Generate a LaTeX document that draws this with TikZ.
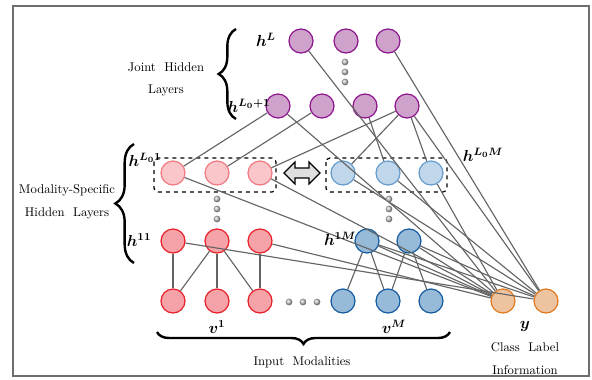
\documentclass[tikz,border=0pt]{standalone}
\usepackage{amsmath,bm}
\usetikzlibrary{decorations.pathreplacing}
\definecolor{jfill}{RGB}{207,162,204}
\definecolor{jdraw}{RGB}{140,20,140}
\definecolor{rlfill}{RGB}{250,198,202}
\definecolor{rldraw}{RGB}{240,120,128}
\definecolor{rfill}{RGB}{245,163,168}
\definecolor{rdraw}{RGB}{232,30,40}
\definecolor{blfill}{RGB}{192,214,234}
\definecolor{bldraw}{RGB}{100,156,206}
\definecolor{bfill}{RGB}{150,186,216}
\definecolor{bdraw}{RGB}{20,90,160}
\definecolor{ofill}{RGB}{238,196,160}
\definecolor{odraw}{RGB}{224,120,30}
\definecolor{edgec}{RGB}{100,100,100}
\definecolor{framec}{RGB}{110,110,110}
\tikzset{
  neuron/.style={circle,minimum size=18pt,inner sep=0pt,line width=0.9pt},
  jnode/.style={neuron,fill=jfill,draw=jdraw},
  rlnode/.style={neuron,fill=rlfill,draw=rldraw},
  rnode/.style={neuron,fill=rfill,draw=rdraw},
  blnode/.style={neuron,fill=blfill,draw=bldraw},
  bnode/.style={neuron,fill=bfill,draw=bdraw},
  onode/.style={neuron,fill=ofill,draw=odraw},
  conn/.style={draw=edgec,line width=0.85pt},
  dotball/.style={circle,inner sep=0pt,minimum size=5pt,ball color=gray!45,draw=none},
  lbl/.style={inner sep=0pt,font=\fontsize{12}{14}\selectfont},
  txt/.style={inner sep=0pt,font=\fontsize{9.5}{11}\selectfont},
  groupbox/.style={draw=black,dashed,line width=0.9pt,rounded corners=3pt},
  bracestyle/.style={decorate,line width=1.8pt}
}
\begin{document}
\begin{tikzpicture}[x=0.75pt,y=-0.75pt]
\useasboundingbox (0,0) rectangle (592,379);
\draw[framec,line width=1.5pt] (13,6) rectangle (589,376);

% dashed group boxes
\draw[groupbox] (154,158) rectangle (276,192);
\draw[groupbox] (326,158) rectangle (447,192);

% joint layers
\node[jnode] (L1) at (301,41) {};
\node[jnode] (L2) at (346,41) {};
\node[jnode] (L3) at (388,41) {};
\node[jnode] (J1) at (278,106) {};
\node[jnode] (J2) at (322,106) {};
\node[jnode] (J3) at (365,106) {};
\node[jnode] (J4) at (407,106) {};

% modality-specific top
\node[rlnode] (RL1) at (173,173) {};
\node[rlnode] (RL2) at (217,173) {};
\node[rlnode] (RL3) at (260,173) {};
\node[blnode] (BL1) at (343,173) {};
\node[blnode] (BL2) at (388,173) {};
\node[blnode] (BL3) at (431,173) {};

% modality-specific first
\node[rnode] (RH1) at (173,241) {};
\node[rnode] (RH2) at (217,241) {};
\node[rnode] (RH3) at (260,241) {};
\node[bnode] (BH1) at (367,241) {};
\node[bnode] (BH2) at (409,241) {};

% inputs
\node[rnode] (RV1) at (173,301) {};
\node[rnode] (RV2) at (217,301) {};
\node[rnode] (RV3) at (260,301) {};
\node[bnode] (BV1) at (343,301) {};
\node[bnode] (BV2) at (388,301) {};
\node[bnode] (BV3) at (431,301) {};
\node[onode] (O1) at (503,301) {};
\node[onode] (O2) at (546,301) {};

% connections
\draw[conn] (L1) -- (O1);
\draw[conn] (L3) -- (O2);
\draw[conn] (J1) -- (RL1);
\draw[conn] (J1) -- (O1);
\draw[conn] (J2) -- (RL2);
\draw[conn] (J3) -- (BL2);
\draw[conn] (J4) -- (RL3);
\draw[conn] (J4) -- (BL1);
\draw[conn] (J4) -- (BL3);
\draw[conn] (J4) -- (O2);
\draw[conn] (RL1) -- (O1);
\draw[conn] (RL3) -- (O1);
\draw[conn] (BL1) -- (O2);
\draw[conn] (BL2) -- (O2);
\draw[conn] (BL3) -- (O1);
\draw[conn] (RH1) -- (O2);
\draw[conn] (RH3) -- (O1);
\draw[conn] (BH1) -- (O1);
\draw[conn] (BH1) -- (O2);
\draw[conn] (BH2) -- (O1);
\draw[conn] (BH2) -- (O2);
\draw[conn] (RH1) -- (RV1);
\draw[conn] (RH2) -- (RV1);
\draw[conn] (RH2) -- (RV2);
\draw[conn] (RH2) -- (RV3);
\draw[conn] (RH3) -- (RV3);
\draw[conn] (BH1) -- (BV1);
\draw[conn] (BH1) -- (BV2);
\draw[conn] (BH2) -- (BV2);
\draw[conn] (BH2) -- (BV3);

% ellipsis dots
\foreach \i/\x/\y in {a/345/62,b/345/72,c/345/82,d/217/199,e/217/209,f/217/219,g/389/199,h/389/209,k/389/219,m/289/302,n/303/302,p/317/302}
  \node[dotball] (dot\i) at (\x,\y) {};

% double arrow
\draw[fill=gray!25,line width=0.9pt,line join=miter]
  (284,173) -- (295,162) -- (295,168) -- (309,168) -- (309,162) -- (320,173)
  -- (309,184) -- (309,178) -- (295,178) -- (295,184) -- cycle;

% braces
\draw[bracestyle,decoration={brace,amplitude=13pt}] (236,119) -- (236,29);
\draw[bracestyle,decoration={brace,amplitude=14pt}] (134,263) -- (134,144);
\draw[bracestyle,decoration={brace,amplitude=9pt}] (450,332) -- (157,332);

% labels
\node[lbl] (tL) at (266,40) {$\bm{h}^{\bm{L}}$};
\node[lbl] (tJ) at (249,106) {$\bm{h}^{\bm{L_0+1}}$};
\node[lbl] (tM) at (145,160) {$\bm{h}^{\bm{L_0 1}}$};
\node[lbl] (t11) at (139,240) {$\bm{h}^{\bm{11}}$};
\node[lbl] (t1M) at (340,239) {$\bm{h}^{\bm{1M}}$};
\node[lbl] (tLM) at (483,155) {$\bm{h}^{\bm{L_0 M}}$};
\node[lbl] (tv1) at (217,327) {$\bm{v}^{\bm{1}}$};
\node[lbl] (tvM) at (394,327) {$\bm{v}^{\bm{M}}$};
\node[lbl] (ty) at (525,326) {$\bm{y}$};

\node[txt] (joint1) at (166,67) {Joint\ \ Hidden};
\node[txt] (joint2) at (166,90) {Layers};
\node[txt] (mod1) at (67,190) {Modality-Specific};
\node[txt] (mod2) at (67,213) {Hidden\ \ Layers};
\node[txt] (inp) at (302,362) {Input\ \ Modalities};
\node[txt] (cls1) at (525,347) {Class\ \ Label};
\node[txt] (cls2) at (525,370) {Information};
\end{tikzpicture}
\end{document}
